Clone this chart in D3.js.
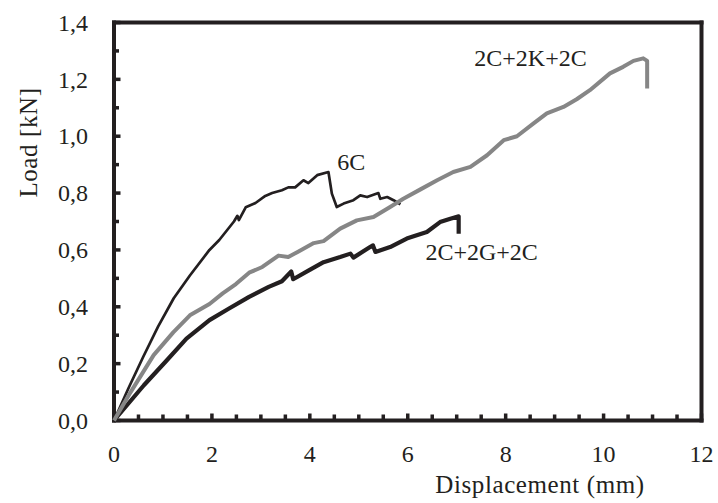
<!DOCTYPE html>
<html>
<head>
<meta charset="utf-8">
<script src="https://cdn.jsdelivr.net/npm/d3@7"></script>
<style>
  html, body { margin: 0; padding: 0; background: #fff; }
  svg { display: block; }
  text { font-family: "Liberation Serif", "Times New Roman", serif; fill: #231f20; }
</style>
</head>
<body>
<svg id="chart" width="718" height="503"></svg>
<script>
// ---- data ----
const seriesNames = ["6C", "2C+2K+2C", "2C+2G+2C"];

const x6C = [0, 0.3, 0.6, 0.9, 1.22, 1.55, 1.95, 2.15, 2.45, 2.52, 2.55, 2.69, 2.89, 3.09, 3.23, 3.43, 3.56, 3.70, 3.87, 3.97, 4.15, 4.38, 4.45, 4.55, 4.69, 4.89, 5.03, 5.17, 5.40, 5.44, 5.58, 5.71, 5.85];
const y6C = [0, 0.115, 0.225, 0.33, 0.43, 0.51, 0.60, 0.635, 0.70, 0.72, 0.705, 0.75, 0.765, 0.79, 0.80, 0.81, 0.82, 0.82, 0.845, 0.835, 0.863, 0.874, 0.798, 0.751, 0.763, 0.775, 0.792, 0.786, 0.80, 0.78, 0.786, 0.775, 0.76];

const x2K = [0, 0.34, 0.81, 1.21, 1.55, 1.95, 2.22, 2.49, 2.76, 3.03, 3.36, 3.56, 3.76, 3.97, 4.08, 4.28, 4.62, 4.96, 5.30, 5.64, 5.91, 6.26, 6.60, 6.93, 7.28, 7.62, 7.96, 8.23, 8.57, 8.84, 9.18, 9.45, 9.72, 10.13, 10.40, 10.61, 10.81, 10.89, 10.89];
const y2K = [0, 0.10, 0.23, 0.31, 0.37, 0.41, 0.447, 0.48, 0.52, 0.54, 0.58, 0.575, 0.594, 0.614, 0.624, 0.631, 0.675, 0.704, 0.716, 0.751, 0.78, 0.813, 0.845, 0.874, 0.892, 0.933, 0.986, 1.0, 1.045, 1.08, 1.103, 1.13, 1.162, 1.221, 1.244, 1.265, 1.274, 1.265, 1.168];

const x2G = [0, 0.61, 1.08, 1.48, 1.95, 2.35, 2.76, 3.16, 3.43, 3.62, 3.66, 3.97, 4.28, 4.62, 4.83, 4.89, 5.23, 5.29, 5.34, 5.64, 5.98, 6.12, 6.39, 6.66, 6.87, 7.04, 7.04];
const y2G = [0, 0.124, 0.212, 0.288, 0.353, 0.394, 0.435, 0.47, 0.49, 0.524, 0.497, 0.527, 0.557, 0.575, 0.587, 0.573, 0.61, 0.616, 0.593, 0.61, 0.64, 0.648, 0.663, 0.698, 0.71, 0.718, 0.657];

const xTicks = [0, 2, 4, 6, 8, 10, 12];
const yTicks = [0, 0.2, 0.4, 0.6, 0.8, 1.0, 1.2, 1.4];
const labelX = [4.56, 7.36, 6.36];
const labelY = [0.88, 1.246, 0.563];
const xTitle = "Displacement (mm)";
const yTitle = "Load [kN]";

// ---- layout ----
const ink = "#231f20";
const svg = d3.select("#chart");
const x = d3.scaleLinear().domain([0, 12]).range([114, 701.5]);
const y = d3.scaleLinear().domain([0, 1.4]).range([420.5, 22.5]);
const fmtY = d => d.toFixed(1).replace(".", ",");

const xMinor = d3.range(0, 25).map(i => i * 0.5);
const yMinor = d3.range(0, 15).map(i => i / 10);

// frame
const fw = 4;
const frame = svg.append("g").attr("fill", ink);
frame.append("rect").attr("x", x(0) - fw / 2).attr("y", y(0) - fw / 2)
  .attr("width", x(12) - x(0) + fw).attr("height", fw);
frame.append("rect").attr("x", x(0) - fw / 2).attr("y", y(1.4) - fw / 2)
  .attr("width", x(12) - x(0) + fw).attr("height", fw);
frame.append("rect").attr("x", x(0) - fw / 2).attr("y", y(1.4) - fw / 2)
  .attr("width", fw).attr("height", y(0) - y(1.4) + fw);
frame.append("rect").attr("x", x(12) - fw / 2).attr("y", y(1.4) - fw / 2)
  .attr("width", fw).attr("height", y(0) - y(1.4) + fw);

// ticks (inward)
const tw = 3.5;
const tg = svg.append("g").attr("fill", ink);
tg.selectAll("rect.xt").data(xMinor).join("rect").attr("class", "xt")
  .attr("x", d => x(d) - tw / 2).attr("width", tw)
  .attr("y", d => y(0) - (Math.abs(d % 2) < 1e-9 ? 7 : 6))
  .attr("height", d => (Math.abs(d % 2) < 1e-9 ? 7 : 6));
tg.selectAll("rect.yt").data(yMinor).join("rect").attr("class", "yt")
  .attr("y", d => y(d) - tw / 2).attr("height", tw)
  .attr("x", x(0))
  .attr("width", d => (Math.round(d * 10) % 2 === 0 ? 6.5 : 5));

// tick labels
svg.append("g").selectAll("text").data(xTicks).join("text")
  .attr("x", d => x(d)).attr("y", 462).attr("text-anchor", "middle")
  .attr("font-size", 24).text(d => d3.format("d")(d));
svg.append("g").selectAll("text").data(yTicks).join("text")
  .attr("x", 88).attr("y", d => y(d)).attr("dy", "0.34em").attr("text-anchor", "end")
  .attr("font-size", 24).text(fmtY);

// series
const series = [
  { name: seriesNames[0], xs: x6C, ys: y6C, color: ink, width: 2.7 },
  { name: seriesNames[2], xs: x2G, ys: y2G, color: ink, width: 4.2 },
  { name: seriesNames[1], xs: x2K, ys: y2K, color: "#868686", width: 4 }
];
const line = d3.line().x(d => x(d[0])).y(d => y(d[1]));
series.forEach(s => {
  svg.append("path")
    .datum(s.xs.map((v, i) => [v, s.ys[i]]))
    .attr("d", line)
    .attr("fill", "none")
    .attr("stroke", s.color)
    .attr("stroke-width", s.width)
    .attr("stroke-linejoin", "round")
    .attr("stroke-linecap", "butt");
});

// series labels
seriesNames.forEach((n, i) => {
  svg.append("text").attr("x", x(labelX[i])).attr("y", y(labelY[i]))
    .attr("font-size", 24).text(n);
});

// axis titles
svg.append("text").attr("x", 540).attr("y", 493).attr("text-anchor", "middle")
  .attr("font-size", 25).attr("letter-spacing", 0.6).text(xTitle);
svg.append("text").attr("transform", "translate(37,142.5) rotate(-90)")
  .attr("text-anchor", "middle").attr("font-size", 25).attr("letter-spacing", 0.6).text(yTitle);
</script>
</body>
</html>
